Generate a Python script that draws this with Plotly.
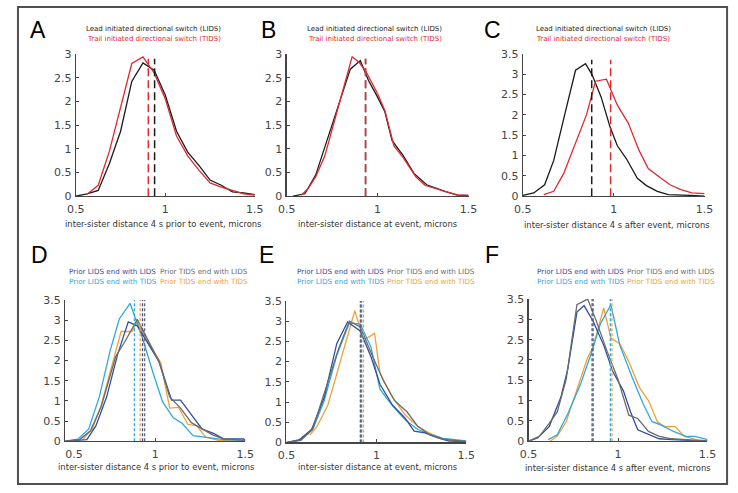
import plotly.graph_objects as go

W, H = 738, 493

# ---------------- data ----------------
# Panel A: 4 s prior to event
A_lids_x = [0.5, 0.5625, 0.625, 0.6875, 0.75, 0.8125, 0.875, 0.9375, 1.0, 1.0625, 1.125, 1.1875, 1.25, 1.3125, 1.375, 1.4375, 1.5]
A_lids_y = [0, 0.05, 0.12, 0.69, 1.37, 2.42, 2.81, 2.66, 2.13, 1.37, 0.93, 0.65, 0.34, 0.23, 0.09, 0.07, 0.03]
A_tids_x = [0.5625, 0.625, 0.6875, 0.75, 0.8125, 0.875, 0.9375, 1.0, 1.0625, 1.125, 1.1875, 1.25, 1.3125, 1.375, 1.4375, 1.5]
A_tids_y = [0.04, 0.23, 0.95, 1.85, 2.8, 2.94, 2.6, 2.05, 1.27, 0.85, 0.55, 0.28, 0.19, 0.12, 0.05, 0.02]
A_means = [0.94, 0.905]          # LIDS, TIDS
A_mean_top = 2.9

# Panel B: at event
B_lids_x = [0.535, 0.6, 0.66, 0.70, 0.75, 0.81, 0.85, 0.905, 0.95, 1.0, 1.04, 1.08, 1.14, 1.2, 1.27, 1.37, 1.44, 1.5]
B_lids_y = [0, 0.05, 0.45, 0.93, 1.5, 2.23, 2.68, 2.86, 2.44, 2.09, 1.78, 1.17, 0.86, 0.48, 0.24, 0.1, 0.02, 0.01]
B_tids_x = [0.58, 0.62, 0.66, 0.71, 0.76, 0.81, 0.86, 0.9, 0.94, 1.0, 1.04, 1.09, 1.14, 1.21, 1.26, 1.37, 1.44, 1.5]
B_tids_y = [0.02, 0.17, 0.41, 0.85, 1.55, 2.25, 2.94, 2.82, 2.6, 2.16, 1.81, 1.06, 0.82, 0.41, 0.23, 0.1, 0.02, 0.02]
B_means = [0.933, 0.935]
B_mean_top = 2.9

# Panel C: 4 s after event
C_lids_x = [0.5, 0.56, 0.62, 0.67, 0.73, 0.79, 0.845, 0.88, 0.93, 0.98, 1.02, 1.07, 1.13, 1.18, 1.24, 1.3, 1.42, 1.5]
C_lids_y = [0.02, 0.08, 0.28, 0.88, 2.0, 3.1, 3.26, 3.0, 2.45, 1.7, 1.24, 0.92, 0.44, 0.26, 0.12, 0.04, 0.02, 0.0]
C_tids_x = [0.615, 0.67, 0.725, 0.79, 0.85, 0.9, 0.96, 1.02, 1.08, 1.14, 1.19, 1.26, 1.31, 1.37, 1.43, 1.5]
C_tids_y = [0.04, 0.12, 0.56, 1.32, 2.0, 2.83, 2.88, 2.24, 1.8, 1.12, 0.68, 0.44, 0.28, 0.16, 0.08, 0.06]
C_means = [0.879, 0.983]
C_mean_top = 3.36

# Panel D (4 s prior), series: LL, LT, TL, TT
D_ll_x = [0.5, 0.62, 0.67, 0.73, 0.79, 0.85, 0.9, 0.955, 1.02, 1.09, 1.14, 1.2, 1.26, 1.32, 1.38, 1.49, 1.5]
D_ll_y = [0, 0.04, 0.38, 1.1, 2.14, 2.96, 2.86, 2.46, 1.98, 1.02, 1.02, 0.66, 0.3, 0.2, 0.06, 0.06, 0.02]
D_lt_x = [0.5, 0.57, 0.63, 0.69, 0.75, 0.80, 0.86, 0.93, 0.99, 1.04, 1.1, 1.15, 1.21, 1.29, 1.38, 1.5]
D_lt_y = [0, 0.05, 0.3, 1.11, 2.26, 3.03, 3.42, 2.54, 1.66, 0.98, 0.58, 0.44, 0.14, 0.1, 0.04, 0.02]
D_tl_x = [0.5, 0.58, 0.64, 0.7, 0.78, 0.83, 0.9, 0.955, 1.02, 1.08, 1.14, 1.2, 1.26, 1.32, 1.38, 1.5]
D_tl_y = [0, 0.04, 0.26, 0.86, 2.1, 2.46, 3.02, 2.54, 1.98, 1.1, 0.82, 0.46, 0.3, 0.15, 0.06, 0.02]
D_tt_x = [0.6, 0.65, 0.7, 0.76, 0.81, 0.87, 0.9, 0.96, 1.03, 1.08, 1.13, 1.18, 1.23, 1.28, 1.35, 1.5]
D_tt_y = [0.06, 0.3, 0.9, 1.9, 2.72, 2.72, 2.96, 2.46, 1.95, 0.82, 0.84, 0.42, 0.38, 0.1, 0.02, 0]
D_means = [0.929, 0.884, 0.941, 0.916]

# Panel E (at event)
E_ll_x = [0.5, 0.57, 0.64, 0.71, 0.78, 0.84, 0.91, 0.97, 1.02, 1.09, 1.16, 1.21, 1.27, 1.34, 1.4, 1.5]
E_ll_y = [0, 0.06, 0.32, 1.12, 2.45, 2.98, 2.76, 2.12, 1.44, 0.92, 0.6, 0.28, 0.24, 0.12, 0.04, 0.02]
E_lt_x = [0.51, 0.58, 0.65, 0.71, 0.78, 0.85, 0.91, 0.97, 1.02, 1.08, 1.16, 1.23, 1.3, 1.37, 1.5]
E_lt_y = [0, 0.08, 0.36, 1.04, 2.16, 2.96, 2.93, 2.36, 1.32, 0.96, 0.56, 0.32, 0.2, 0.1, 0.04]
E_tl_x = [0.5, 0.58, 0.645, 0.71, 0.79, 0.85, 0.91, 0.98, 1.04, 1.1, 1.17, 1.23, 1.3, 1.37, 1.5]
E_tl_y = [0, 0.05, 0.32, 1.2, 2.32, 3.0, 2.86, 2.12, 1.52, 1.04, 0.76, 0.4, 0.18, 0.08, 0.02]
E_tt_x = [0.63, 0.67, 0.73, 0.79, 0.84, 0.88, 0.91, 0.94, 0.99, 1.02, 1.09, 1.16, 1.23, 1.3, 1.4, 1.5]
E_tt_y = [0.18, 0.4, 0.92, 1.84, 2.64, 3.26, 2.82, 2.56, 2.7, 1.72, 1.12, 0.68, 0.4, 0.22, 0.04, 0.02]
E_means = [0.911, 0.918, 0.914, 0.928]

# Panel F (4 s after)
F_ll_x = [0.5, 0.55, 0.615, 0.68, 0.72, 0.77, 0.81, 0.86, 0.92, 0.97, 1.03, 1.07, 1.11, 1.17, 1.23, 1.3, 1.4, 1.5]
F_ll_y = [0, 0.08, 0.36, 1.08, 1.8, 3.18, 3.34, 2.96, 2.36, 1.72, 1.24, 0.72, 0.28, 0.16, 0.06, 0.04, 0.02, 0]
F_lt_x = [0.61, 0.66, 0.72, 0.79, 0.85, 0.9, 0.96, 1.01, 1.08, 1.14, 1.19, 1.24, 1.31, 1.38, 1.43, 1.5]
F_lt_y = [0.04, 0.16, 0.68, 1.4, 2.16, 2.88, 3.36, 2.36, 1.56, 0.92, 0.48, 0.4, 0.24, 0.12, 0.12, 0.04]
F_tl_x = [0.5, 0.56, 0.615, 0.66, 0.71, 0.77, 0.83, 0.875, 0.94, 1.0, 1.06, 1.11, 1.17, 1.23, 1.3, 1.5]
F_tl_y = [0, 0.12, 0.44, 0.72, 1.52, 3.36, 3.5, 3.0, 2.2, 1.52, 0.64, 0.56, 0.24, 0.12, 0.06, 0]
F_tt_x = [0.62, 0.66, 0.71, 0.77, 0.83, 0.86, 0.92, 0.96, 1.01, 1.06, 1.12, 1.17, 1.22, 1.26, 1.32, 1.37, 1.44, 1.5]
F_tt_y = [0, 0.12, 0.48, 1.28, 2.06, 2.32, 3.28, 2.54, 2.4, 1.96, 1.32, 1.0, 0.48, 0.36, 0.36, 0.12, 0.04, 0]
F_means = [0.855, 0.957, 0.861, 0.966]

x_ticks = [0.5, 1, 1.5]
x_tick_text = ["0.5", "1", "1.5"]
y_ticks_3 = [0, 0.5, 1, 1.5, 2, 2.5, 3]
y_ticks_35 = [0, 0.5, 1, 1.5, 2, 2.5, 3, 3.5]

top_titles = ["Lead initiated directional switch (LIDS)", "Trail initiated directional switch (TIDS)"]
legend_names = ["Prior LIDS end with LIDS", "Prior LIDS end with TIDS",
                "Prior TIDS end with LIDS", "Prior TIDS end with TIDS"]
xlabels = ["inter-sister distance 4 s prior to event, microns",
           "inter-sister distance at event, microns",
           "inter-sister distance 4 s after event, microns"]
panel_letters = ["A", "B", "C", "D", "E", "F"]

# ---------------- style ----------------
BLACK = "#1a1a1a"
RED = "#e2282e"
C_LL = "#2f4f9f"
C_LT = "#2ea8de"
C_TL = "#6b6b6b"
C_TT = "#f0a03c"
AX = "#454545"
FONT = "DejaVu Sans"

def fx(px):
    return px / W

def fy(py):
    return 1 - py / H

# axis geometry in pixels: (x at 0.5, x at 1.5, y at 0, y at top, ymax)
geom = {
    1: (61, 246.5, 195.3, 49.3, 3),
    2: (279.5, 468, 195.3, 49.3, 3),
    3: (524.3, 712.7, 195.3, 49.3, 3.5),
    4: (50, 236.7, 447, 302, 3.5),
    5: (279.3, 465.7, 448.3, 303, 3.5),
    6: (530.3, 715.7, 447, 301, 3.5),
}

fig = go.Figure()

def add_line(i, x, y, color, width=1.3, dash=None):
    fig.add_trace(go.Scatter(
        x=x, y=y, mode="lines", xaxis=f"x{i}", yaxis=f"y{i}",
        line=dict(color=color, width=width, dash=dash), showlegend=False,
        hoverinfo="skip"))

def add_mean(i, m, top, color, dash, width=1.5):
    add_line(i, [m, m], [0, top], color, width=width, dash=dash)

LONG = "8px,4px"
DOT = "3px,2px"

# top row
add_line(1, A_lids_x, A_lids_y, BLACK)
add_line(1, A_tids_x, A_tids_y, RED)
add_mean(1, A_means[0], A_mean_top, BLACK, LONG)
add_mean(1, A_means[1], A_mean_top, RED, LONG)

add_line(2, B_lids_x, B_lids_y, BLACK)
add_line(2, B_tids_x, B_tids_y, RED)
add_mean(2, B_means[0], B_mean_top, "#8b3a3a", LONG)
add_mean(2, B_means[1], B_mean_top, "#b8454a", LONG)

add_line(3, C_lids_x, C_lids_y, BLACK)
add_line(3, C_tids_x, C_tids_y, RED)
add_mean(3, C_means[0], C_mean_top, BLACK, LONG)
add_mean(3, C_means[1], C_mean_top, RED, LONG)

# bottom row
bottom = {
    4: [(D_ll_x, D_ll_y), (D_lt_x, D_lt_y), (D_tl_x, D_tl_y), (D_tt_x, D_tt_y), D_means],
    5: [(E_ll_x, E_ll_y), (E_lt_x, E_lt_y), (E_tl_x, E_tl_y), (E_tt_x, E_tt_y), E_means],
    6: [(F_ll_x, F_ll_y), (F_lt_x, F_lt_y), (F_tl_x, F_tl_y), (F_tt_x, F_tt_y), F_means],
}
cols4 = [C_LL, C_LT, C_TL, C_TT]
for i, series in bottom.items():
    means = series[4]
    for k in [3, 1, 0, 2]:
        add_line(i, series[k][0], series[k][1], cols4[k])
    for k in [1, 3, 0, 2]:
        add_mean(i, means[k], 3.5, cols4[k], DOT, width=1.3)

layout = dict(
    width=W, height=H, margin=dict(l=0, r=0, t=0, b=0),
    paper_bgcolor="white", plot_bgcolor="white", showlegend=False,
    font=dict(family=FONT, color=AX),
)
for i, (x0, x1, y0, y1, ytop) in geom.items():
    ttext = list(x_tick_text)
    if i == 4:
        ttext[0] = "\u00a0" * 5 + ttext[0]
    layout[f"xaxis{i}"] = dict(
        domain=[fx(x0), fx(x1)], range=[0.5, 1.5], anchor=f"y{i}",
        tickvals=x_ticks, ticktext=ttext, ticks="inside", ticklen=3,
        tickcolor=AX, showline=True, linecolor=AX, linewidth=1.2,
        showgrid=False, zeroline=False, ticklabelstandoff=2,
        tickfont=dict(family=FONT, size=11, color=AX))
    layout[f"yaxis{i}"] = dict(
        domain=[fy(y0), fy(y1)], range=[0, ytop], anchor=f"x{i}",
        tickvals=y_ticks_3 if ytop == 3 else y_ticks_35, ticks="inside", ticklen=3,
        tickcolor=AX, showline=True, linecolor=AX, linewidth=1.2,
        showgrid=False, zeroline=False, ticklabelstandoff=1,
        tickfont=dict(family=FONT, size=11, color=AX))
fig.update_layout(**layout)

ann = []
def text(px, py, s, size, color, family=FONT, xanchor="center"):
    ann.append(dict(x=fx(px), y=fy(py), xref="paper", yref="paper", text=s,
                    showarrow=False, xanchor=xanchor, yanchor="middle",
                    font=dict(family=family, size=size, color=color)))

# panel letters
letter_pos = [(22, 25), (261, 25), (493, 25), (23, 256), (259, 256), (492, 256)]
for (px, py), s in zip(letter_pos, panel_letters):
    text(px, py, s, 23, "black", family="Liberation Sans")

# top titles
for cx in [141.7, 370.7, 607.8]:
    text(cx, 23.3, top_titles[0], 7, BLACK)
    text(cx, 33.6, top_titles[1], 7, RED)

# legends of bottom row
leg_pos = [(52.3, 146), (288.3, 381.7), (536.7, 630)]
for c1, c2 in leg_pos:
    text(c1, 272.7, legend_names[0], 7.2, C_LL, xanchor="left")
    text(c1, 283.3, legend_names[1], 7.2, C_LT, xanchor="left")
    text(c2, 272.7, legend_names[2], 7.2, C_TL, xanchor="left")
    text(c2, 283.3, legend_names[3], 7.2, C_TT, xanchor="left")

# x labels
for (cx, cy), s in zip([(151.8, 224), (373.3, 224), (621.7, 225)], xlabels):
    text(cx, cy, s, 8.4, "#333333")
for (cx, cy), s in zip([(144.2, 473.3), (373.3, 473.3), (622.8, 474)], xlabels):
    text(cx, cy, s, 8.4, "#333333")

fig.update_layout(annotations=ann)

# outer frame
fig.add_shape(type="rect", xref="paper", yref="paper",
              x0=fx(1), x1=fx(736), y0=fy(491), y1=fy(1),
              line=dict(color="#505050", width=2), fillcolor="rgba(0,0,0,0)")

fig.write_html(
    "out.html",
    config={"displayModeBar": False, "staticPlot": True},
    post_script=("document.body.style.margin='0';"
                 "document.body.style.overflow='hidden';"
                 "document.documentElement.style.overflow='hidden';"),
)
